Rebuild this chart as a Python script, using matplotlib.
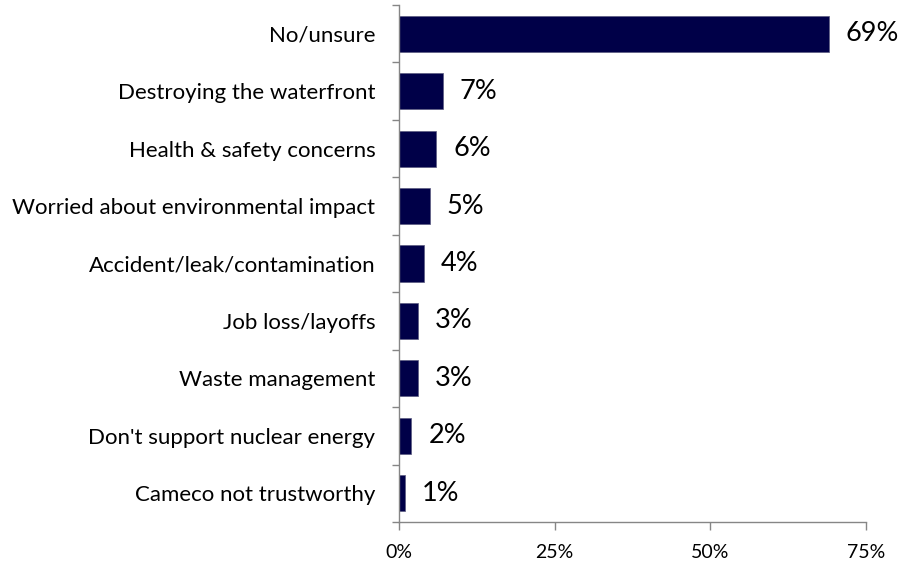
import matplotlib
matplotlib.use("Agg")
import matplotlib.pyplot as plt
from matplotlib.ticker import FixedLocator

plt.rcParams['font.family'] = ['Lato', 'DejaVu Sans']

# data, top to bottom as shown
categories = ["No/unsure", "Destroying the waterfront", "Health & safety concerns",
              "Worried about environmental impact", "Accident/leak/contamination",
              "Job loss/layoffs", "Waste management", "Don't support nuclear energy",
              "Cameco not trustworthy"]
values = [69, 7, 6, 5, 4, 3, 3, 2, 1]
xticks = [0, 25, 50, 75]

fig = plt.figure(figsize=(8.99, 5.65), dpi=100)
ax = fig.add_axes([399 / 899, 1 - 522 / 565, 467 / 899, 517 / 565])

n = len(categories)
ypos = list(range(n - 1, -1, -1))
ax.barh(ypos, values, height=0.63, color='#000048', edgecolor='#5a5a80', linewidth=0.5)

for y, v in zip(ypos, values):
    ax.text(v + 2.7, y, f"{v}%", va='center', ha='left', fontsize=19.5)

ax.set_xlim(0, 75)
ax.set_ylim(-0.5, n - 0.5)
ax.set_xticks(xticks)
ax.set_xticklabels([f"{t}%" for t in xticks], fontsize=14)
ax.set_yticks(ypos)
ax.set_yticklabels(categories, fontsize=16)
ax.tick_params(axis='y', length=0, pad=17)
ax.yaxis.set_minor_locator(FixedLocator([i - 0.5 for i in range(n + 1)]))
ax.tick_params(axis='y', which='minor', length=5, color='#868686', width=1)
ax.tick_params(axis='x', length=6, color='#868686', width=1, pad=10)

for s in ['top', 'right']:
    ax.spines[s].set_visible(False)
for s in ['left', 'bottom']:
    ax.spines[s].set_color('#868686')
    ax.spines[s].set_linewidth(1)

fig.savefig("out.png", dpi=100)
